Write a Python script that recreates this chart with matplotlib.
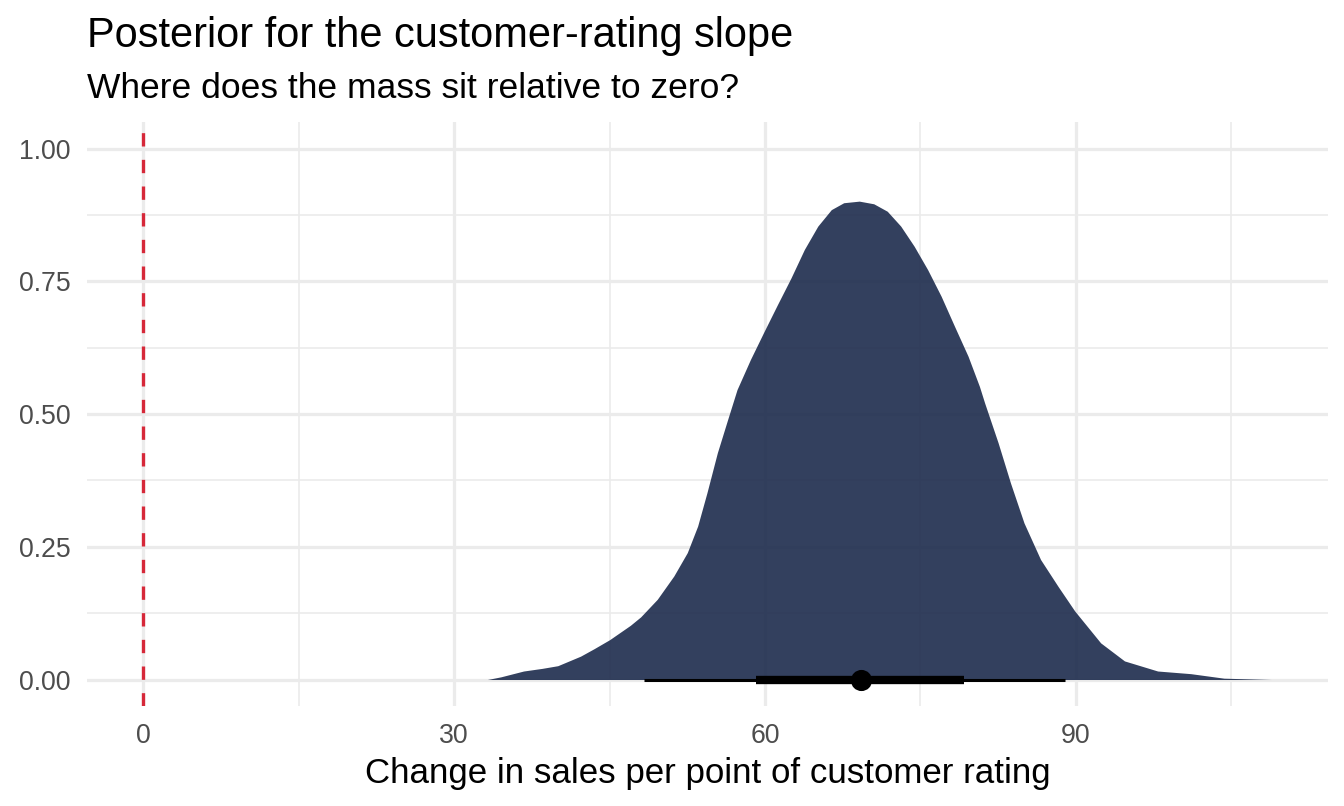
"""Posterior half-eye plot for the customer-rating slope."""

import matplotlib

matplotlib.use("Agg")
import matplotlib.pyplot as plt  # noqa: E402
from matplotlib.ticker import FixedLocator  # noqa: E402

plt.rcParams["font.family"] = ["Liberation Sans", "DejaVu Sans"]

# density outline of the slope posterior (scaled so the peak sits at 0.9)
slope_x = [33.2, 34.5, 36.7, 38.5, 40.0, 42.2, 43.5, 45.0, 47.0, 48.0, 49.6,
           51.2, 52.5, 53.5, 54.4, 55.4, 56.4, 57.3, 58.6, 59.9, 61.2, 62.5,
           63.8, 65.1, 66.4, 67.6, 69.1, 70.5, 71.8, 73.1, 74.4, 75.7, 77.0,
           78.3, 79.6, 80.7, 81.2, 82.5, 83.7, 85.0, 86.6, 88.3, 89.9, 92.4,
           94.7, 97.9, 101.1, 104.3, 108.9]
slope_dens = [0.0, 0.005, 0.016, 0.021, 0.026, 0.044, 0.058, 0.075, 0.102,
              0.118, 0.151, 0.195, 0.239, 0.289, 0.352, 0.427, 0.490, 0.546,
              0.603, 0.655, 0.706, 0.756, 0.810, 0.854, 0.885, 0.898, 0.901,
              0.896, 0.882, 0.854, 0.816, 0.772, 0.722, 0.665, 0.609, 0.552,
              0.521, 0.446, 0.370, 0.295, 0.226, 0.175, 0.129, 0.069, 0.035,
              0.016, 0.011, 0.0025, 0.0]

median = 69.25
interval_66 = (59.1, 79.2)
interval_95 = (48.3, 89.0)
reference = 0

x_major = [0, 30, 60, 90]
x_minor = [15, 45, 75, 105]
y_major = [0.0, 0.25, 0.50, 0.75, 1.00]
y_minor = [0.125, 0.375, 0.625, 0.875]

fig = plt.figure(figsize=(6.72, 4.03), dpi=200)
ax = fig.add_axes([0.0647, 0.124, 0.9234, 0.7246])

ax.fill_between(slope_x, 0, slope_dens, color="#1D2B4C", alpha=0.9,
                linewidth=0, zorder=3)
ax.plot(interval_95, [0, 0], color="black", linewidth=1.1,
        solid_capstyle="butt", zorder=4)
ax.plot(interval_66, [0, 0], color="black", linewidth=3.0,
        solid_capstyle="butt", zorder=4)
ax.plot([median], [0], "o", color="black", markersize=6.6, zorder=5)
ax.axvline(reference, color="#D62839", linewidth=1.2, linestyle=(0, (4, 4)),
           zorder=4)

x_span = max(slope_x) - reference
ax.set_xlim(reference - 0.05 * x_span, max(slope_x) + 0.05 * x_span)
ax.set_ylim(-0.05, 1.05)

ax.set_xticks(x_major)
ax.set_xticklabels([str(v) for v in x_major])
ax.xaxis.set_minor_locator(FixedLocator(x_minor))
ax.set_yticks(y_major)
ax.set_yticklabels([f"{v:.2f}" for v in y_major])
ax.yaxis.set_minor_locator(FixedLocator(y_minor))

ax.grid(which="major", color="#EBEBEB", linewidth=1.16, zorder=0)
ax.grid(which="minor", color="#EBEBEB", linewidth=0.58, zorder=0)
ax.set_axisbelow(True)
for s in ax.spines.values():
    s.set_visible(False)
ax.tick_params(which="both", length=0)
ax.tick_params(axis="both", labelsize=9.6, labelcolor="#4D4D4D", pad=6)

ax.set_xlabel("Change in sales per point of customer rating", fontsize=12.55,
              labelpad=3)

fig.text(0.0647, 1 - 47 / 806, "Posterior for the customer-rating slope",
         fontsize=14.95, va="baseline", ha="left")
fig.text(0.0647, 1 - 98 / 806, "Where does the mass sit relative to zero?",
         fontsize=12.75, va="baseline", ha="left")

fig.savefig("out.png", dpi=200)
plt.close(fig)
